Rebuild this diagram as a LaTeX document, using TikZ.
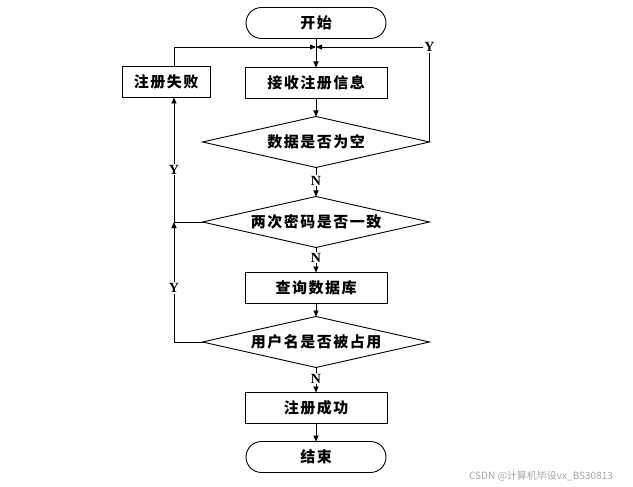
\documentclass[tikz,border=0pt]{standalone}
\usepackage{fontspec}
\setmainfont{Liberation Serif}
\newfontfamily\cjk[LetterSpace=10]{Noto Sans CJK SC}
\newfontfamily\wmfont{Noto Sans CJK SC}
\usetikzlibrary{arrows.meta}
\begin{document}
\begin{tikzpicture}[x=1pt,y=-1pt,
  every node/.style={inner sep=0pt,outer sep=0pt},
  base/.style={line width=0.9pt,font=\cjk\fontsize{15}{17}\selectfont\bfseries},
  boxstyle/.style={base,draw,rectangle,minimum width=142,minimum height=31},
  termstyle/.style={base,draw,rectangle,rounded corners=15.5,minimum width=140,minimum height=31},
  decstyle/.style={base,rectangle,minimum width=227,minimum height=51},
  lbl/.style={fill=white,inner sep=1pt,font=\fontsize{14}{16}\selectfont\bfseries},
  conn/.style={line width=0.9pt,-{Triangle[length=6pt,width=5pt]}},
  plain/.style={line width=0.9pt}]
\useasboundingbox (0,0) rectangle (633,487);
\node[termstyle] (start) at (316,23) {开始};
\node[boxstyle] (recv) at (316,83) {接收注册信息};
\node[boxstyle,minimum width=88] (fail) at (166,82) {注册失败};
\node[decstyle] (d1) at (316,142) {数据是否为空};
\node[decstyle] (d2) at (316,222) {两次密码是否一致};
\node[boxstyle] (query) at (316,288) {查询数据库};
\node[decstyle] (d3) at (316,342) {用户名是否被占用};
\node[boxstyle] (succ) at (316,408) {注册成功};
\node[termstyle] (end) at (316,457) {结束};
\foreach \d in {d1,d2,d3}
  \draw[plain] (\d.west) -- (\d.north) -- (\d.east) -- (\d.south) -- cycle;
\coordinate (m) at (316,47);
\coordinate (L) at (174,0);
\coordinate (j) at (174,222);
% main flow
\draw[conn] (start) -- (recv);
\draw[conn] (recv.south) -- (d1.north);
\draw[conn] (d1.south) -- node[lbl,pos=0.45]{N} (d2.north);
\draw[conn] (d2.south) -- node[lbl,pos=0.4]{N} (query.north);
\draw[conn] (query.south) -- (d3.north);
\draw[conn] (d3.south) -- node[lbl,pos=0.45]{N} (succ.north);
\draw[conn] (succ) -- (end);
% Y branches
\draw[conn] (d1.east) |- node[lbl,pos=0.5]{Y} (m);
\draw[conn] (fail.north -| L) |- (m);
\draw[conn] (d2.west) -| node[lbl,pos=0.71]{Y} (fail.south -| L);
\draw[conn] (d3.west) -| node[lbl,pos=0.725]{Y} (j);
\node[text=black!35,font=\wmfont\fontsize{10}{12}\selectfont] (wm) at (541,476) {CSDN @计算机毕设vx\_BS30813};
\end{tikzpicture}
\end{document}
